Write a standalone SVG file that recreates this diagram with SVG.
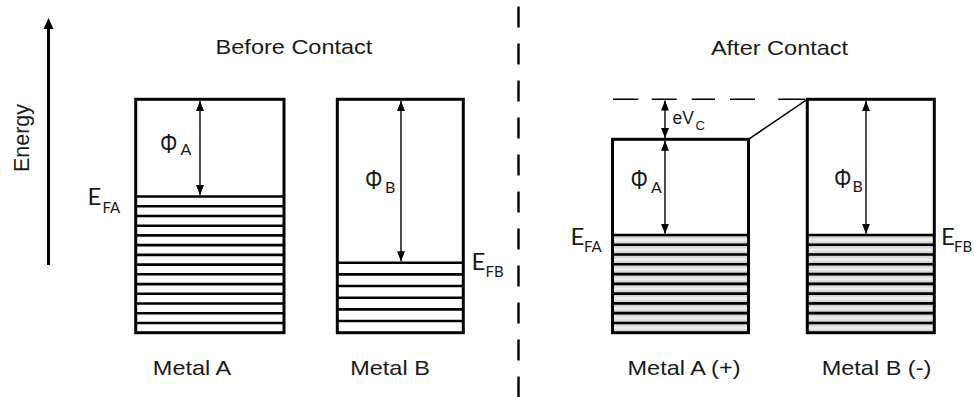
<svg xmlns="http://www.w3.org/2000/svg" width="974" height="397" viewBox="0 0 974 397">
<style>
.t{font-family:"Liberation Sans",Arial,sans-serif;fill:#1a1a1a}
.c{font-family:Lato,"Open Sans","Liberation Sans",sans-serif;fill:#1a1a1a}
.box{fill:none;stroke:#000;stroke-width:3}
.lv{stroke:#000;stroke-width:2.6}
.arr{stroke:#000;stroke-width:1.4;fill:none;marker-start:url(#ah);marker-end:url(#ah)}
.gs{fill:url(#gr)}
</style>
<defs>
<marker id="ah" viewBox="0 0 10 8" refX="10" refY="4" markerWidth="10" markerHeight="8" markerUnits="userSpaceOnUse" orient="auto-start-reverse">
<path d="M0,0 L10,4 L0,8 z" fill="#000"/>
</marker>
<linearGradient id="gr" x1="0" y1="0" x2="0" y2="1">
<stop offset="0" stop-color="#bdbdbd"/>
<stop offset="0.5" stop-color="#f2f2f2"/>
<stop offset="1" stop-color="#bdbdbd"/>
</linearGradient>
</defs>
<rect width="974" height="397" fill="#fff"/>

<g id="energy-axis">
<line x1="48.5" y1="28" x2="48.5" y2="265" stroke="#000" stroke-width="3"/>
<polygon points="48.5,18 43.5,29 53.5,29" fill="#000"/>
<text class="t" font-size="21.5" text-anchor="middle" transform="translate(28.5,138) rotate(-90)">Energy</text>
</g>

<g id="divider">
<line x1="518.5" y1="6.5" x2="518.5" y2="397" stroke="#000" stroke-width="2.4" stroke-dasharray="21 16"/>
</g>

<g id="titles">
<text class="t" font-size="21" text-anchor="middle" transform="translate(294,53.5) scale(1.12,1)">Before Contact</text>
<text class="t" font-size="21" text-anchor="middle" transform="translate(779.5,55) scale(1.12,1)">After Contact</text>
</g>

<g id="metalA-before">
<g class="lv">
<line x1="135.7" y1="196.5" x2="284" y2="196.5"/>
<line x1="135.7" y1="206.2" x2="284" y2="206.2"/>
<line x1="135.7" y1="216" x2="284" y2="216"/>
<line x1="135.7" y1="225.7" x2="284" y2="225.7"/>
<line x1="135.7" y1="235.4" x2="284" y2="235.4"/>
<line x1="135.7" y1="245.1" x2="284" y2="245.1"/>
<line x1="135.7" y1="254.9" x2="284" y2="254.9"/>
<line x1="135.7" y1="264.6" x2="284" y2="264.6"/>
<line x1="135.7" y1="274.3" x2="284" y2="274.3"/>
<line x1="135.7" y1="284.1" x2="284" y2="284.1"/>
<line x1="135.7" y1="293.8" x2="284" y2="293.8"/>
<line x1="135.7" y1="303.5" x2="284" y2="303.5"/>
<line x1="135.7" y1="313.3" x2="284" y2="313.3"/>
<line x1="135.7" y1="323" x2="284" y2="323"/>
</g>
<rect class="box" x="135.7" y="99.3" width="148.3" height="233.4"/>
<text class="c" font-size="24" x="87.5" y="205">E</text>
<text class="c" font-size="15" x="102.5" y="213.3">FA</text>
<text class="t" font-size="21" text-anchor="middle" transform="translate(192,375) scale(1.12,1)">Metal A</text>
</g>

<g id="metalB-before">
<g class="lv">
<line x1="337.3" y1="262.7" x2="463.3" y2="262.7"/>
<line x1="337.3" y1="274.4" x2="463.3" y2="274.4"/>
<line x1="337.3" y1="286" x2="463.3" y2="286"/>
<line x1="337.3" y1="297.7" x2="463.3" y2="297.7"/>
<line x1="337.3" y1="309.4" x2="463.3" y2="309.4"/>
<line x1="337.3" y1="321" x2="463.3" y2="321"/>
</g>
<rect class="box" x="337.3" y="99.3" width="126" height="233.4"/>
<text class="c" font-size="24" x="471.5" y="270">E</text>
<text class="c" font-size="15" x="485.5" y="276.5">FB</text>
<text class="t" font-size="21" text-anchor="middle" transform="translate(390,375) scale(1.12,1)">Metal B</text>
</g>

<g id="metalA-after">
<g class="gs">
<rect x="612.5" y="235" width="136" height="9.77"/>
<rect x="612.5" y="244.77" width="136" height="9.77"/>
<rect x="612.5" y="254.54" width="136" height="9.77"/>
<rect x="612.5" y="264.31" width="136" height="9.77"/>
<rect x="612.5" y="274.08" width="136" height="9.77"/>
<rect x="612.5" y="283.85" width="136" height="9.77"/>
<rect x="612.5" y="293.62" width="136" height="9.77"/>
<rect x="612.5" y="303.39" width="136" height="9.77"/>
<rect x="612.5" y="313.16" width="136" height="9.77"/>
<rect x="612.5" y="322.93" width="136" height="9.77"/>
</g>
<g class="lv">
<line x1="612.5" y1="235" x2="748.5" y2="235"/>
<line x1="612.5" y1="244.77" x2="748.5" y2="244.77"/>
<line x1="612.5" y1="254.54" x2="748.5" y2="254.54"/>
<line x1="612.5" y1="264.31" x2="748.5" y2="264.31"/>
<line x1="612.5" y1="274.08" x2="748.5" y2="274.08"/>
<line x1="612.5" y1="283.85" x2="748.5" y2="283.85"/>
<line x1="612.5" y1="293.62" x2="748.5" y2="293.62"/>
<line x1="612.5" y1="303.39" x2="748.5" y2="303.39"/>
<line x1="612.5" y1="313.16" x2="748.5" y2="313.16"/>
<line x1="612.5" y1="322.93" x2="748.5" y2="322.93"/>
</g>
<rect class="box" x="612.5" y="139.3" width="136" height="193.4"/>
<text class="c" font-size="24" x="570.5" y="245">E</text>
<text class="c" font-size="15" x="584" y="251.7">FA</text>
<text class="t" font-size="21" text-anchor="middle" transform="translate(684,375) scale(1.12,1)">Metal A (+)</text>
</g>

<g id="metalB-after">
<g class="gs">
<rect x="807.3" y="235" width="127" height="9.77"/>
<rect x="807.3" y="244.77" width="127" height="9.77"/>
<rect x="807.3" y="254.54" width="127" height="9.77"/>
<rect x="807.3" y="264.31" width="127" height="9.77"/>
<rect x="807.3" y="274.08" width="127" height="9.77"/>
<rect x="807.3" y="283.85" width="127" height="9.77"/>
<rect x="807.3" y="293.62" width="127" height="9.77"/>
<rect x="807.3" y="303.39" width="127" height="9.77"/>
<rect x="807.3" y="313.16" width="127" height="9.77"/>
<rect x="807.3" y="322.93" width="127" height="9.77"/>
</g>
<g class="lv">
<line x1="807.3" y1="235" x2="934.3" y2="235"/>
<line x1="807.3" y1="244.77" x2="934.3" y2="244.77"/>
<line x1="807.3" y1="254.54" x2="934.3" y2="254.54"/>
<line x1="807.3" y1="264.31" x2="934.3" y2="264.31"/>
<line x1="807.3" y1="274.08" x2="934.3" y2="274.08"/>
<line x1="807.3" y1="283.85" x2="934.3" y2="283.85"/>
<line x1="807.3" y1="293.62" x2="934.3" y2="293.62"/>
<line x1="807.3" y1="303.39" x2="934.3" y2="303.39"/>
<line x1="807.3" y1="313.16" x2="934.3" y2="313.16"/>
<line x1="807.3" y1="322.93" x2="934.3" y2="322.93"/>
</g>
<rect class="box" x="807.3" y="99.3" width="127" height="233.4"/>
<text class="c" font-size="24" x="941" y="245">E</text>
<text class="c" font-size="15" x="954" y="251.7">FB</text>
<text class="t" font-size="21" text-anchor="middle" transform="translate(876.5,375) scale(1.12,1)">Metal B (-)</text>
</g>

<g id="connectors">
<line class="arr" x1="200" y1="101" x2="200" y2="195"/>
<line class="arr" x1="401" y1="101" x2="401" y2="261.3"/>
<line class="arr" x1="665" y1="100.5" x2="665" y2="138"/>
<line class="arr" x1="665" y1="140.8" x2="665" y2="233.7"/>
<line class="arr" x1="866" y1="101" x2="866" y2="233.7"/>
<path d="M613 99.3H638.3M651.7 99.3H676.7M691.7 99.3H715M730 99.3H755M778.3 99.3H805" stroke="#000" stroke-width="1.5" fill="none"/>
<line x1="748.5" y1="139.3" x2="807.3" y2="99.3" stroke="#000" stroke-width="1.5"/>
</g>

<g id="labels">
<text class="t" font-size="28" transform="translate(160,153.3) scale(0.78,1)">Φ</text>
<text class="c" font-size="16" x="180.5" y="154.5">A</text>
<text class="t" font-size="28" transform="translate(365,189) scale(0.78,1)">Φ</text>
<text class="c" font-size="16" x="385" y="192.5">B</text>
<text class="t" font-size="28" transform="translate(630.5,188.5) scale(0.78,1)">Φ</text>
<text class="c" font-size="16" x="651" y="193.3">A</text>
<text class="t" font-size="28" transform="translate(834,188) scale(0.78,1)">Φ</text>
<text class="c" font-size="16" x="852.5" y="192">B</text>
<text class="t" font-size="17.5" x="672.5" y="124.3">eV</text>
<text class="t" font-size="13" x="695.5" y="129.5" fill="#666">C</text>
</g>
</svg>
